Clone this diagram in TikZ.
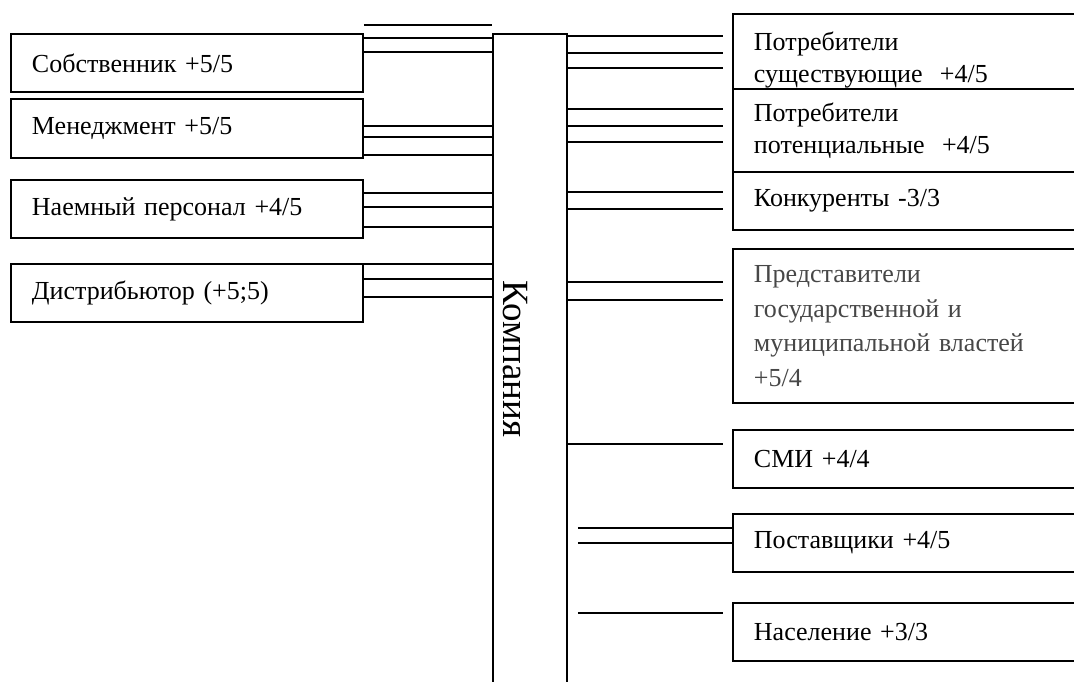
\documentclass[tikz,border=0pt]{standalone}
\usepackage{fontspec}
\setmainfont{Liberation Serif}
\newfontfamily\tnrfont{Liberation Serif}
\usepackage{tikz}
\usetikzlibrary{positioning}
\tikzset{
  partbox/.style={rectangle, draw=black, fill=white, line width=1.9pt,
                  anchor=north west, text width=310pt, inner xsep=21pt, inner ysep=0pt,
                  align=left, font=\tnrfont\fontsize{26}{32}\selectfont},
  sidebox/.style={partbox, text width=330pt},
  compbox/.style={rectangle, draw=black, line width=1.9pt, anchor=north west,
                  minimum width=74pt, minimum height=700pt},
  link/.style={line width=1.9pt},
}
\begin{document}
\begin{tikzpicture}[x=1pt, y=-1pt]
    \clip (0,0) rectangle (1074,682);

    % company column
    \node[compbox] (comp) at (492,33) {};
    \node[rotate=-90, font=\tnrfont\fontsize{37}{40}\selectfont] (comptxt) at (515,359) {Компания};

    % internal stakeholders
    \node[partbox, minimum height=58pt] (own)   at (10,33)  {Собственник +5/5};
    \node[partbox, minimum height=59pt] (mgmt)  at (10,98)  {Менеджмент +5/5};
    \node[partbox, minimum height=58pt] (staff) at (10,179) {Наемный персонал +4/5};
    \node[partbox, minimum height=58pt] (dist)  at (10,263) {Дистрибьютор (+5;5)};

    % external stakeholders
    \node[sidebox, minimum height=93pt] (cons)   at (732,13)  {Потребители\\существующие\ \ +4/5};
    \node[sidebox, minimum height=83pt] (pcons)  at (732,88)  {Потребители\\потенциальные\ \ +4/5};
    \node[sidebox, minimum height=58pt] (compet) at (732,171) {Конкуренты -3/3};
    \node[sidebox, minimum height=154pt, text=black!72,
          font=\tnrfont\fontsize{26}{34.5}\selectfont] (gov) at (732,248)
         {Представители\\государственной и\\муниципальной властей\\+5/4};
    \node[sidebox, minimum height=58pt] (media)  at (732,429) {СМИ +4/4};
    \node[sidebox, minimum height=58pt] (supp)   at (732,513) {Поставщики +4/5};
    \node[sidebox, minimum height=58pt] (popl)   at (732,602) {Население +3/3};

    % links on the left
    \foreach \y in {25,38,52}
      \draw[link] (own.east |- 0,\y) -- (comp.west |- 0,\y);
    \foreach \y in {126,137,155}
      \draw[link] (mgmt.east |- 0,\y) -- (comp.west |- 0,\y);
    \foreach \y in {193,207,227}
      \draw[link] (staff.east |- 0,\y) -- (comp.west |- 0,\y);
    \foreach \y in {264,279,297}
      \draw[link] (dist.east |- 0,\y) -- (comp.west |- 0,\y);

    % links on the right
    \foreach \y in {36,53,68}
      \draw[link] (comp.east |- 0,\y) -- ([xshift=-9pt]cons.west |- 0,\y);
    \foreach \y in {109,126,142}
      \draw[link] (comp.east |- 0,\y) -- ([xshift=-9pt]pcons.west |- 0,\y);
    \foreach \y in {192,209}
      \draw[link] (comp.east |- 0,\y) -- ([xshift=-9pt]compet.west |- 0,\y);
    \foreach \y in {282,300}
      \draw[link] (comp.east |- 0,\y) -- ([xshift=-9pt]gov.west |- 0,\y);
    \draw[link] (comp.east |- 0,444) -- ([xshift=-9pt]media.west |- 0,444);
    \foreach \y in {528,543}
      \draw[link] ([xshift=10pt]comp.east |- 0,\y) -- (supp.west |- 0,\y);
    \draw[link] ([xshift=10pt]comp.east |- 0,613) -- ([xshift=-9pt]popl.west |- 0,613);
\end{tikzpicture}
\end{document}
